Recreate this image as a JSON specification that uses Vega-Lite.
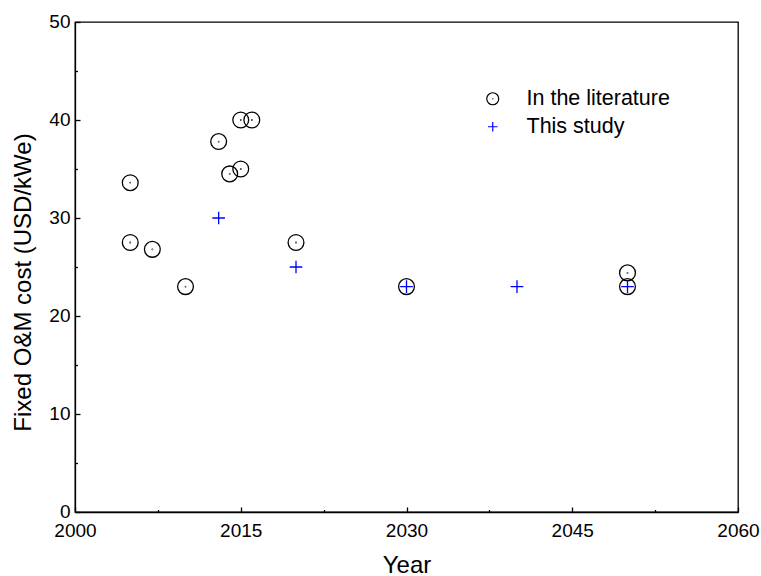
{
  "$schema": "https://vega.github.io/schema/vega-lite/v6.json",
  "width": 663,
  "height": 490,
  "autosize": {"type": "none"},
  "padding": {"left": 75, "top": 22, "right": 23, "bottom": 64},
  "background": "white",
  "config": {
    "view": {"stroke": "black", "strokeWidth": 1.3},
    "font": "Liberation Sans"
  },
  "data": {
    "values": [
      {"year": 2005, "cost": 33.6, "series": "In the literature"},
      {"year": 2005, "cost": 27.5, "series": "In the literature"},
      {"year": 2007, "cost": 26.8, "series": "In the literature"},
      {"year": 2010, "cost": 23.0, "series": "In the literature"},
      {"year": 2013, "cost": 37.8, "series": "In the literature"},
      {"year": 2014, "cost": 34.5, "series": "In the literature"},
      {"year": 2015, "cost": 40.0, "series": "In the literature"},
      {"year": 2015, "cost": 35.0, "series": "In the literature"},
      {"year": 2016, "cost": 40.0, "series": "In the literature"},
      {"year": 2020, "cost": 27.5, "series": "In the literature"},
      {"year": 2030, "cost": 23.0, "series": "In the literature"},
      {"year": 2050, "cost": 24.4, "series": "In the literature"},
      {"year": 2050, "cost": 23.0, "series": "In the literature"},
      {"year": 2013, "cost": 30.0, "series": "This study"},
      {"year": 2020, "cost": 25.0, "series": "This study"},
      {"year": 2030, "cost": 23.0, "series": "This study"},
      {"year": 2040, "cost": 23.0, "series": "This study"},
      {"year": 2050, "cost": 23.0, "series": "This study"}
    ]
  },
  "mark": {"type": "point", "filled": false, "strokeWidth": 1.3, "opacity": 1, "size": 250},
  "encoding": {
    "x": {
      "field": "year",
      "type": "quantitative",
      "scale": {"domain": [2000, 2060], "nice": false, "zero": false},
      "axis": {
        "title": "Year",
        "values": [2000, 2007.5, 2015, 2022.5, 2030, 2037.5, 2045, 2052.5, 2060],
        "labelExpr": "(datum.value - 2000) % 15 === 0 ? '' + datum.value : ''",
        "tickSize": {"condition": {"test": "(datum.value - 2000) % 15 === 0", "value": -5}, "value": -2.5},
        "labelPadding": 14,
        "grid": false,
        "domainColor": "black",
        "domainWidth": 1.3,
        "tickColor": "black",
        "tickWidth": 1.3,
        "labelColor": "black",
        "labelFontSize": 19,
        "labelFlush": false,
        "titleFontSize": 24,
        "titleFontWeight": "normal",
        "titleColor": "black",
        "titlePadding": 13
      }
    },
    "y": {
      "field": "cost",
      "type": "quantitative",
      "scale": {"domain": [0, 50], "nice": false},
      "axis": {
        "title": "Fixed O&M cost (USD/kWe)",
        "values": [0, 5, 10, 15, 20, 25, 30, 35, 40, 45, 50],
        "labelExpr": "datum.value % 10 === 0 ? '' + datum.value : ''",
        "tickSize": {"condition": {"test": "datum.value % 10 === 0", "value": -5}, "value": -2.5},
        "labelPadding": 10,
        "labelOffset": -1,
        "grid": false,
        "domainColor": "black",
        "domainWidth": 1.3,
        "tickColor": "black",
        "tickWidth": 1.3,
        "labelColor": "black",
        "labelFontSize": 19,
        "labelFlush": false,
        "titleFontSize": 24,
        "titleFontWeight": "normal",
        "titleColor": "black",
        "titlePadding": 13,
        "titleY": 260
      }
    },
    "shape": {
      "field": "series",
      "type": "nominal",
      "scale": {
        "domain": ["In the literature", "This study"],
        "range": [
          "M1,0A1,1,0,1,1,-1,0A1,1,0,1,1,1,0ZM0.03,0A0.03,0.03,0,1,1,-0.03,0A0.03,0.03,0,1,1,0.03,0Z",
          "M-0.8,0H0.8M0,-0.8V0.8"
        ]
      },
      "legend": {
        "orient": "none",
        "legendX": 407,
        "legendY": 66,
        "title": null,
        "padding": 0,
        "symbolSize": 144,
        "symbolStrokeWidth": 1.2,
        "labelFontSize": 21.5,
        "labelColor": "black",
        "labelOffset": 23,
        "rowPadding": 5
      }
    },
    "color": {
      "field": "series",
      "type": "nominal",
      "scale": {"domain": ["In the literature", "This study"], "range": ["black", "#0000ff"]},
      "legend": {
        "orient": "none",
        "legendX": 407,
        "legendY": 66,
        "title": null,
        "padding": 0,
        "symbolSize": 144,
        "symbolStrokeWidth": 1.2,
        "labelFontSize": 21.5,
        "labelColor": "black",
        "labelOffset": 23,
        "rowPadding": 5
      }
    }
  }
}
